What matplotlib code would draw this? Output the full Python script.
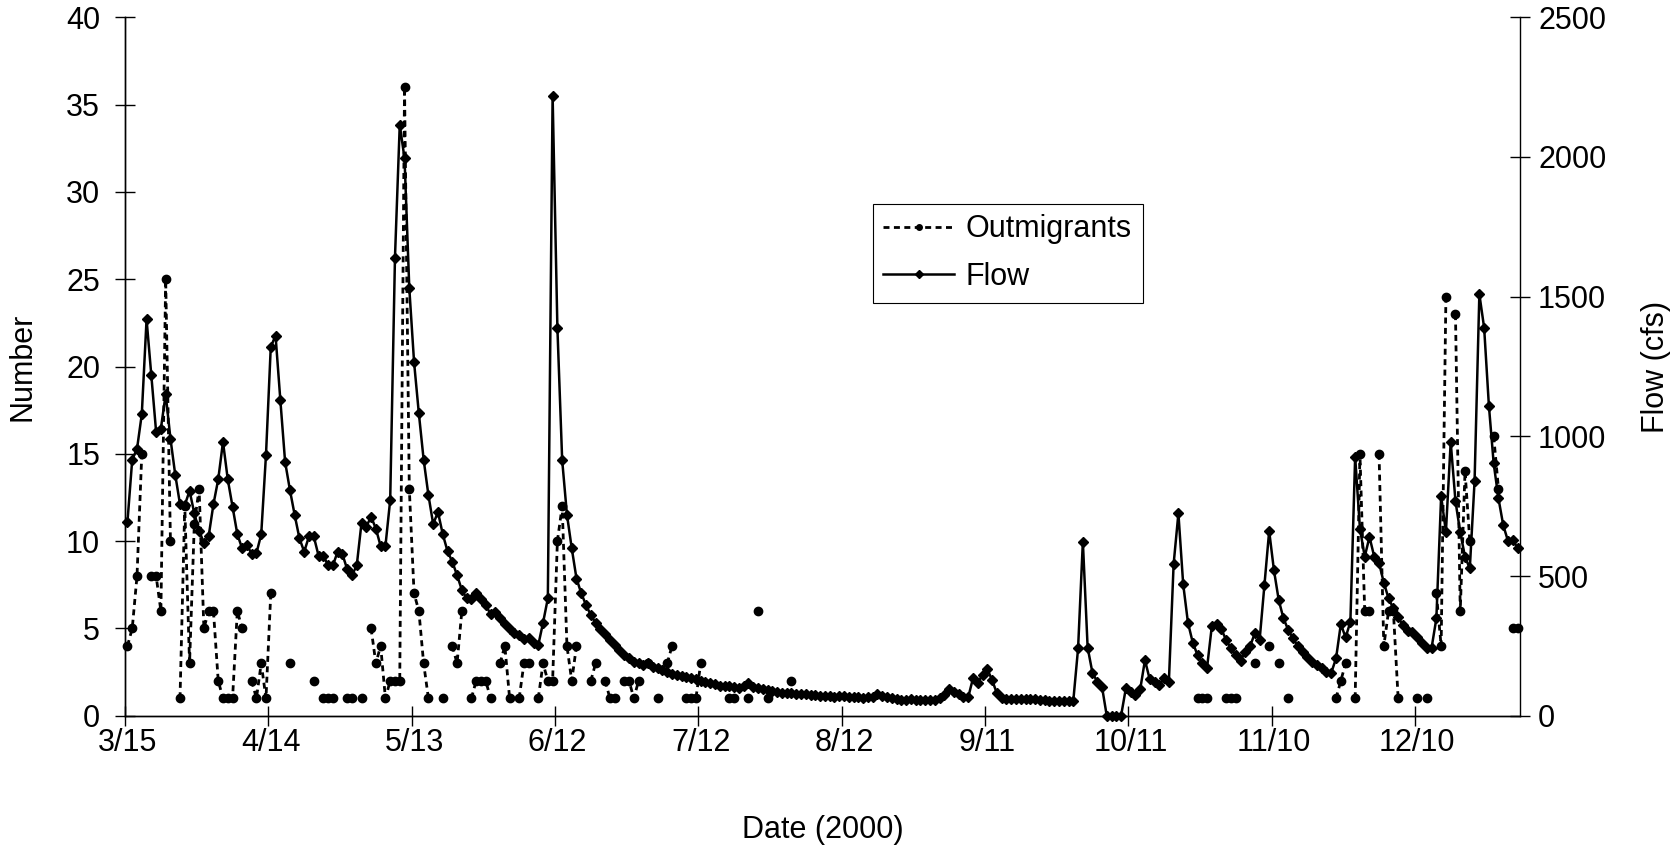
import numpy as np
import matplotlib
matplotlib.use("Agg")
import matplotlib.pyplot as plt

plt.rcParams['font.family'] = ['Liberation Sans', 'DejaVu Sans']
plt.rcParams['lines.scale_dashes'] = False

N = None
# Daily flow (cfs), 3/15 .. 12/31 (292 days)
flow_spring = [694, 917, 955, 1079, 1419, 1219, 1016, 1028, 1151, 992, 863, 757, 754, 805, 724,
               662, 619, 643, 757, 846, 980, 846, 748, 650, 599, 612, 579,
               582, 649, 934, 1320, 1361, 1131, 909, 809, 719, 635, 587, 642, 642, 573, 573,
               538, 538, 587, 578, 524, 503, 538, 691, 677, 712, 670, 607, 607, 772]
flow_may = [1640, 2115, 1995, 1530, 1265,
            1082, 917, 790, 686, 729, 650, 589, 551, 503, 450, 420, 416, 438, 416, 396,
            364, 372, 348, 330, 309, 295, 289, 273,
            277, 261, 253, 333, 420, 2220]
flow_summer = [1389, 915, 720, 600, 491, 438, 396, 360, 333, 312,
               292, 271, 253, 235, 217, 205, 193, 187, 181, 187, 175, 169, 163, 157, 151,
               146, 142, 137, 134, 130,
               125, 122, 118, 112, 107, 106, 107, 104, 98, 106, 116, 101, 98, 94, 92, 88,
               86, 83, 82, 80, 79, 78, 76, 74, 73, 72, 70, 69, 68, 70, 69, 68, 67, 66, 64,
               66, 68, 78, 70, 66, 62, 60, 58, 58, 60, 58, 57, 56, 55, 56, 62, 74, 94, 86,
               78, 68, 66]
flow_fall = [134, 118, 146, 166, 128, 80, 62, 61, 61, 61, 61, 61, 61, 61, 58, 55,
             54, 54, 54, 54, 54, 54,
             241, 623, 244, 154, 122, 104, 0, 0, 0, 0, 98, 86, 74, 94, 199, 130, 122, 110,
             134, 119, 543, 724, 471, 333, 262, 217, 190, 172, 321, 330, 309, 271,
             241, 217, 197, 229, 249, 295, 271, 468, 661, 521, 414, 348, 307, 277, 249,
             227, 209, 193, 181, 169, 157, 154, 205, 328, 280, 336, 927, 670, 569, 640,
             569, 547, 476, 420, 384, 352, 324, 304, 300, 280,
             259, 241, 243, 348, 786, 658, 980, 768, 656, 569, 527, 840, 1509, 1389,
             1109, 903, 778, 682, 625, 630, 600]
flow = flow_spring + flow_may + flow_summer + flow_fall

# Daily outmigrant counts (None = not sampled)
outm_spring = [4, 5, 8, 15, N, 8, 8, 6, 25, 10,
               N, 1, 12, 3, 11, 13, 5, 6, 6, 2,
               1, 1, 1, 6, 5, N, 2, 1, 3, 1,
               7, N, N, N, 3, N, N, N, N, 2,
               N, 1, 1, 1, N, N, 1, 1, N, 1,
               N, 5, 3, 4, 1, 2, 2, 2, 36, 13,
               7, 6, 3, 1, N, N, 1, N, 4, 3,
               6, N, 1, 2, 2, 2, 1, N, 3, 4,
               1, N, 1, 3, 3, N, 1, 3, 2, 2]
outm_summer = [10, 12, 4, 2, 4, N, N, 2, 3, N,
               2, 1, 1, N, 2, 2, 1, 2, N, 3,
               N, 1, N, 3, 4, N, N, 1, 1, 1,
               3, N, N, N, N, N, 1, 1, N, N,
               1, N, 6, N, 1, N, N, N, N, 2]
outm_gap = [N] * 84
outm_fall = [1, 1, 1, N, N, N,
             1, 1, 1, N, N, N, 3, N, N, 4,
             N, 3, N, 1, N, N, N, N, N, N, N, N, N,
             1, 2, 3, N, 1, 15, 6,
             6, N, 15, 4, 6, 6, 1, N, N, N,
             1, N, 1, N, 7, 4, 24, N, 23, 6,
             14, 10, N, N, N, N, 16, 13, N, N,
             5, 5]
outm = outm_spring + outm_summer + outm_gap + outm_fall
outm = np.array([np.nan if v is None else v for v in outm], dtype=float)

date_labels = ["3/15", "4/14", "5/13", "6/12", "7/12", "8/12", "9/11", "10/11", "11/10", "12/10"]

x = np.arange(len(flow))

fig = plt.figure(figsize=(16.81, 8.49), dpi=100)
fig.subplots_adjust(left=0.0744, right=0.9042, bottom=0.157, top=0.9796)
ax1 = fig.add_subplot(111)
ax2 = ax1.twinx()

l1, = ax1.plot(x, outm, linestyle=(0, (4.3, 3.2)), color='black', lw=2.0,
               marker='o', ms=6, clip_on=False)
l2, = ax2.plot(x, flow, linestyle='-', color='black', lw=1.8,
               marker='D', ms=5, clip_on=False)

ax1.set_xlim(-0.5, len(flow) - 0.5)
ax1.set_ylim(0, 40)
ax2.set_ylim(0, 2500)
ax1.set_yticks(np.arange(0, 41, 5))
ax2.set_yticks(np.arange(0, 2501, 500))

ax1.set_xticks(np.arange(-0.5, len(flow), 30))
ax1.set_xticks(np.arange(0, len(flow), 30), minor=True)
ax1.set_xticklabels([], minor=False)
ax1.set_xticklabels(date_labels, minor=True)
ax1.tick_params(axis='x', which='major', direction='inout', length=14, width=1)
ax1.tick_params(axis='x', which='minor', length=0, pad=9, labelsize=22)
ax1.tick_params(axis='y', direction='inout', length=14, width=1, pad=11, labelsize=22)
ax2.tick_params(axis='y', direction='inout', length=14, width=1, pad=6, labelsize=22)

for a in (ax1, ax2):
    a.spines['top'].set_visible(False)
    for s in ('left', 'right', 'bottom'):
        a.spines[s].set_linewidth(1.0)
ax1.spines['right'].set_visible(False)

ax1.set_xlabel("Date (2000)", fontsize=22, va='center')
ax1.xaxis.set_label_coords(0.5, -0.163)
ax1.set_ylabel("Number", fontsize=22)
ax1.yaxis.set_label_coords(-0.0625, 0.5)
ax2.set_ylabel("Flow (cfs)", fontsize=22)
ax2.yaxis.set_label_coords(1.0865, 0.5)

leg = ax2.legend([l1, l2], ["Outmigrants", "Flow"], loc='upper left',
                 bbox_to_anchor=(0.536, 0.733), fontsize=22, frameon=True,
                 fancybox=False, edgecolor='black', framealpha=1, numpoints=1,
                 handlelength=2.3, handletextpad=0.4, labelspacing=0.57,
                 borderpad=0.35, borderaxespad=0)
leg.get_frame().set_linewidth(0.8)
for h in leg.legend_handles:
    h.set_markersize(4)

fig.savefig("out.png", dpi=100, facecolor='white')
